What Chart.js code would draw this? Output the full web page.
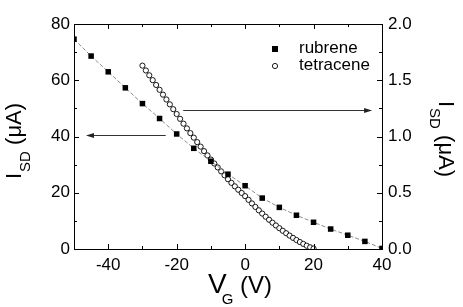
<!DOCTYPE html>
<html>
<head>
<meta charset="utf-8">
<script src="https://cdn.jsdelivr.net/npm/chart.js@4.4.1/dist/chart.umd.min.js"></script>
<style>
  html, body { margin: 0; padding: 0; background: #fff; }
  #chart { display: block; }
</style>
</head>
<body>
<canvas id="chart" width="463" height="307"></canvas>
<script>
// rubrene: left axis, I_SD in uA
const rubreneVg = [-50, -45, -40, -35, -30, -25, -20, -15, -10, -5, 0, 5, 10, 15, 20, 25, 30, 35, 40];
const rubreneIsd = [74.6, 68.6, 63.0, 57.3, 51.7, 46.4, 40.9, 35.8, 31.2, 26.6, 22.5, 18.1, 14.8, 12.0, 9.5, 7.1, 4.9, 2.7, 0.2];

// tetracene: right axis, I_SD in uA
const tetraceneVg = [-30, -29, -28, -27, -26, -25, -24, -23, -22, -21, -20, -19, -18, -17, -16, -15, -14, -13, -12, -11,
  -10, -9, -8, -7, -6, -5, -4, -3, -2, -1, 0, 1, 2, 3, 4, 5, 6, 7, 8, 9,
  10, 11, 12, 13, 14, 15, 16, 17, 18, 19, 20];
const tetraceneIsd = [1.630, 1.587, 1.544, 1.501, 1.458, 1.415, 1.372, 1.329, 1.286, 1.243,
  1.200, 1.157, 1.114, 1.072, 1.030, 0.990, 0.950, 0.910, 0.870, 0.832,
  0.795, 0.760, 0.725, 0.690, 0.655, 0.620, 0.588, 0.557, 0.527, 0.498,
  0.470, 0.437, 0.405, 0.374, 0.344, 0.315, 0.287, 0.260, 0.234, 0.209,
  0.185, 0.162, 0.140, 0.119, 0.099, 0.080, 0.062, 0.045, 0.029, 0.015, 0.004];

// tick labels
const xTickLabels = [-40, -20, 0, 20, 40];
const yTickLabels = [0, 20, 40, 60, 80];
const y1TickLabels = [0, 0.5, 1.0, 1.5, 2.0];

// arrows pointing to the axis each series belongs to (data units)
const leftArrow = { from: -23.2, to: -46.5, y: 40.6 };
const rightArrow = { from: -18.1, to: 37.1, y: 1.238 };

Chart.defaults.font.family = "'Liberation Sans', Arial, Helvetica, sans-serif";
Chart.defaults.color = '#000';

const toPoints = (xs, ys) => xs.map((x, i) => ({ x: x, y: ys[i] }));

function drawArrow(ctx, x1, y, x2) {
  const dir = x2 > x1 ? 1 : -1;
  ctx.save();
  ctx.strokeStyle = '#333';
  ctx.fillStyle = '#222';
  ctx.lineWidth = 1;
  ctx.beginPath();
  ctx.moveTo(x1, y + 0.5);
  ctx.lineTo(x2 - dir * 6, y + 0.5);
  ctx.stroke();
  ctx.beginPath();
  ctx.moveTo(x2, y + 0.5);
  ctx.lineTo(x2 - dir * 8, y - 2);
  ctx.lineTo(x2 - dir * 8, y + 3);
  ctx.closePath();
  ctx.fill();
  ctx.restore();
}

function drawTitle(ctx, x, y, angle, main, sub, rest, size, subSize, drop, subShift, restSize) {
  const fam = "px 'Liberation Sans', Arial, sans-serif";
  ctx.save();
  ctx.translate(x, y);
  ctx.rotate(angle);
  ctx.fillStyle = '#000';
  ctx.textBaseline = 'alphabetic';
  ctx.textAlign = 'left';
  ctx.font = size + fam;
  ctx.fillText(main, 0, 0);
  let w = ctx.measureText(main).width + subShift;
  ctx.font = subSize + fam;
  ctx.fillText(sub, w, drop);
  w += ctx.measureText(sub).width;
  ctx.font = restSize + fam;
  ctx.fillText(rest, w, 0);
  ctx.restore();
}

const framePlugin = {
  id: 'frame',
  beforeDatasetsDraw(chart) {
    const ctx = chart.ctx;
    const { x, y, y1 } = chart.scales;
    drawArrow(ctx, x.getPixelForValue(leftArrow.from), Math.round(y.getPixelForValue(leftArrow.y)),
      x.getPixelForValue(leftArrow.to));
    drawArrow(ctx, x.getPixelForValue(rightArrow.from), Math.round(y1.getPixelForValue(rightArrow.y)),
      x.getPixelForValue(rightArrow.to));
  },
  afterDraw(chart) {
    const ctx = chart.ctx;
    const a = chart.chartArea;
    const { x, y, y1 } = chart.scales;
    ctx.save();
    ctx.strokeStyle = '#000';
    ctx.lineWidth = 1;
    ctx.strokeRect(a.left + 0.5, a.top + 0.5, a.right - a.left, a.bottom - a.top);

    ctx.beginPath();
    x.ticks.forEach(t => {
      const len = xTickLabels.includes(t.value) ? 5 : 3;
      const p = Math.round(x.getPixelForValue(t.value)) + 0.5;
      ctx.moveTo(p, a.bottom);
      ctx.lineTo(p, a.bottom - len);
      ctx.moveTo(p, a.top);
      ctx.lineTo(p, a.top + len);
    });
    y.ticks.forEach(t => {
      const len = yTickLabels.includes(t.value) ? 5 : 3;
      const p = Math.round(y.getPixelForValue(t.value)) + 0.5;
      ctx.moveTo(a.left, p);
      ctx.lineTo(a.left + len, p);
    });
    y1.ticks.forEach(t => {
      const major = y1TickLabels.some(v => Math.abs(v - t.value) < 1e-6);
      const len = major ? 5 : 3;
      const p = Math.round(y1.getPixelForValue(t.value)) + 0.5;
      ctx.moveTo(a.right, p);
      ctx.lineTo(a.right - len, p);
    });
    ctx.stroke();

    // legend inside the plot
    const ds = chart.data.datasets;
    ctx.font = "17px 'Liberation Sans', Arial, sans-serif";
    ctx.textBaseline = 'middle';
    ctx.textAlign = 'left';
    ctx.fillStyle = '#000';
    ctx.fillRect(272, 46, 6, 6);
    ctx.fillText(ds[0].label, 299, 48);
    ctx.beginPath();
    ctx.arc(275, 66, 2.6, 0, Math.PI * 2);
    ctx.fillStyle = '#fff';
    ctx.fill();
    ctx.strokeStyle = '#000';
    ctx.lineWidth = 0.9;
    ctx.stroke();
    ctx.fillStyle = '#000';
    ctx.fillText(ds[1].label, 299, 65);
    ctx.restore();

    // axis titles with subscripts
    drawTitle(ctx, 21, 179, -Math.PI / 2, 'I', 'SD', ' (\u03bcA)', 22, 15, 9, 1, 22);
    drawTitle(ctx, 439, 101, Math.PI / 2, 'I', 'SD', ' (\u03bcA)', 22, 15, 9, 1, 22);
    drawTitle(ctx, 208, 293, 0, 'V', 'G', ' (V)', 28, 15, 11, -5, 24);
  }
};

new Chart(document.getElementById('chart').getContext('2d'), {
  type: 'scatter',
  data: {
    datasets: [{
      label: 'rubrene',
      data: toPoints(rubreneVg, rubreneIsd),
      yAxisID: 'y',
      showLine: true,
      borderColor: '#8c8c8c',
      borderWidth: 1,
      borderDash: [4, 2],
      pointStyle: 'rect',
      pointRadius: 3.9,
      pointBackgroundColor: '#000',
      pointBorderColor: '#000',
      pointBorderWidth: 0
    }, {
      label: 'tetracene',
      data: toPoints(tetraceneVg, tetraceneIsd),
      yAxisID: 'y1',
      showLine: false,
      pointStyle: 'circle',
      pointRadius: 2.6,
      pointBackgroundColor: '#fff',
      pointBorderColor: '#000',
      pointBorderWidth: 0.9
    }]
  },
  options: {
    responsive: false,
    animation: false,
    layout: { padding: { top: 24, left: 0, right: 0, bottom: 0 } },
    plugins: { legend: { display: false }, tooltip: { enabled: false } },
    scales: {
      x: {
        type: 'linear', min: -50, max: 40,
        grid: { display: false, drawTicks: false },
        border: { display: false },
        ticks: {
          stepSize: 10, autoSkip: false, maxRotation: 0, padding: 6,
          font: { size: 17 },
          callback: v => xTickLabels.includes(v) ? String(v) : ''
        },
        afterFit: s => { s.height = 58; }
      },
      y: {
        position: 'left', min: 0, max: 80,
        grid: { display: false, drawTicks: false },
        border: { display: false },
        ticks: {
          stepSize: 10, autoSkip: false, padding: 4,
          font: { size: 17 },
          callback: v => yTickLabels.includes(v) ? String(v) : ''
        },
        afterFit: s => { s.width = 74; }
      },
      y1: {
        position: 'right', min: 0, max: 2,
        grid: { display: false, drawTicks: false },
        border: { display: false },
        ticks: {
          stepSize: 0.25, autoSkip: false, padding: 6,
          font: { size: 17 },
          callback: v => y1TickLabels.some(l => Math.abs(l - v) < 1e-6) ? v.toFixed(1) : ''
        },
        afterFit: s => { s.width = 81; }
      }
    }
  },
  plugins: [framePlugin]
});
</script>
</body>
</html>
